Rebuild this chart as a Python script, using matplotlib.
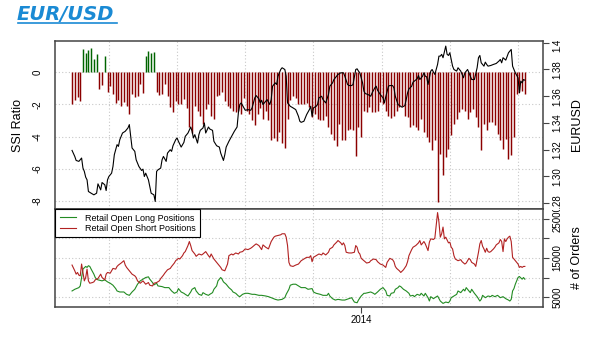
import matplotlib.pyplot as plt
import numpy as np
from matplotlib.lines import Line2D
from matplotlib.transforms import Bbox, TransformedBbox

plt.rcParams['font.family'] = ['Liberation Sans', 'DejaVu Sans']

# trading-day index; 2014 starts at day 212
start_2014 = 212
grid_days = np.arange(27, 340, 50)

# SSI bars, one every second day
ssi_day = np.arange(0, 333, 2)
ssi = [-1.96, -1.71, -1.55, -1.80, 1.45, 1.18, 1.38, 1.51, 0.83, 1.14,
       -1.05, -0.80, 1.03, -1.20, -0.85, -1.35, -1.90, -1.70, -2.10, -1.85,
       -2.10, -2.60, -1.35, -1.55, -1.45, -0.75, -1.30, 1.00, 1.30, 1.18,
       1.24, -1.25, -1.40, -1.35, -0.75, -1.45, -2.15, -2.45, -1.80, -1.95,
       -2.00, -1.65, -2.20, -3.40, -3.80, -2.10, -2.40, -2.70, -3.20, -2.30,
       -1.95, -2.70, -2.90, -1.50, -1.40, -1.20, -1.80, -2.10, -2.20, -2.40,
       -2.50, -2.40, -2.60, -1.60, -2.40, -2.60, -3.00, -3.30, -2.60, -2.20,
       -2.90, -2.40, -3.00, -4.20, -4.10, -4.30, -3.70, -4.40, -4.70, -2.90,
       -1.70, -1.50, -1.60, -1.96, -1.96, -1.96, -1.90, -2.17, -2.79, -2.58,
       -2.89, -3.00, -3.00, -2.69, -3.41, -3.82, -4.24, -4.61, -3.20, -4.24,
       -4.24, -3.62, -3.51, -3.62, -5.23, -3.41, -4.03, -2.38, -2.48, -2.17,
       -2.48, -2.48, -2.38, -1.86, -1.96, -2.38, -2.69, -2.83, -2.69, -2.38,
       -2.17, -2.07, -2.69, -2.79, -3.41, -3.31, -3.41, -3.62, -2.89, -3.72,
       -4.03, -4.34, -4.86, -4.24, -8.06, -5.06, -6.40, -5.27, -4.75, -3.93,
       -3.20, -2.89, -2.48, -2.27, -2.38, -2.89, -2.48, -2.27, -2.79, -3.41,
       -4.81, -3.20, -3.62, -3.10, -3.10, -3.31, -3.82, -4.24, -4.75, -4.13,
       -5.37, -5.17, -4.03, -1.34, -1.24, -1.14, -1.34]

eur_day = [0, 2, 3, 5, 7, 8, 9, 10, 11, 12,
           14, 16, 18, 19, 21, 22, 24, 25, 26, 27,
           29, 30, 31, 33, 34, 35, 37, 39, 41, 42,
           43, 44, 46, 47, 49, 51, 52, 53, 54, 56,
           57, 58, 60, 61, 62, 63, 65, 66, 67, 69,
           70, 72, 73, 74, 76, 77, 78, 80, 82, 83,
           85, 87, 88, 89, 90, 92, 93, 94, 96, 97,
           98, 100, 101, 103, 104, 106, 108, 109, 111, 112,
           113, 115, 117, 119, 121, 122, 123, 124, 126, 127,
           129, 131, 132, 134, 135, 137, 138, 139, 140, 142,
           143, 145, 146, 147, 149, 150, 151, 153, 154, 156,
           157, 158, 160, 162, 164, 166, 167,
           168, 170, 172, 174, 175, 176, 177, 179, 180, 181,
           183, 184, 186, 188, 189, 191, 192, 194, 195, 197,
           199, 200, 202, 203, 205, 206, 208, 209, 210, 211,
           213, 214, 215, 217, 219, 220, 222, 223, 224, 226,
           228, 229, 230, 232, 233, 235, 236, 237, 239, 241,
           242, 244, 245, 246, 247, 249, 250, 251, 253, 254,
           255, 257, 258, 259, 260, 261, 263, 264, 265, 266,
           268, 269, 270, 271, 272, 274, 275, 276, 277, 279,
           280, 282, 283, 285, 287, 288, 290, 291, 293, 295,
           297, 298, 299, 300, 302, 303, 304, 305, 307, 309,
           311, 313, 314, 315, 316, 318, 320, 321, 322, 323,
           324, 325, 327, 328, 329, 330, 331, 332]
eurusd = [1.3195, 1.3150, 1.3120, 1.3113, 1.3138, 1.3063, 1.3038, 1.2995, 1.2975, 1.2888,
          1.2875, 1.2863, 1.2875, 1.2945, 1.2900, 1.2955, 1.2938, 1.2895, 1.2975, 1.3000,
          1.3025, 1.3075, 1.3163, 1.3238, 1.3225, 1.3275, 1.3325, 1.3338, 1.3363, 1.3388,
          1.3300, 1.3213, 1.3188, 1.3125, 1.3075, 1.3045, 1.3055, 1.3000, 1.3025, 1.2975,
          1.2925, 1.2875, 1.2863, 1.2813, 1.3038, 1.3050, 1.3063, 1.3125, 1.3150, 1.3113,
          1.3175, 1.3200, 1.3188, 1.3230, 1.3275, 1.3288, 1.3263, 1.3220, 1.3255, 1.3300,
          1.3325, 1.3370, 1.3338, 1.3288, 1.3313, 1.3250, 1.3313, 1.3345, 1.3363, 1.3400,
          1.3325, 1.3370, 1.3355, 1.3345, 1.3263, 1.3230, 1.3220, 1.3175, 1.3120, 1.3163,
          1.3220, 1.3263, 1.3300, 1.3338, 1.3370, 1.3480, 1.3538, 1.3550, 1.3513, 1.3495,
          1.3500, 1.3495, 1.3513, 1.3588, 1.3605, 1.3580, 1.3550, 1.3570, 1.3538, 1.3563,
          1.3575, 1.3538, 1.3575, 1.3675, 1.3700, 1.3688, 1.3750, 1.3800, 1.3813, 1.3800,
          1.3750, 1.3550, 1.3525, 1.3513, 1.3500, 1.3450, 1.3413,
          1.3405, 1.3413, 1.3463, 1.3500, 1.3525, 1.3450, 1.3513, 1.3525, 1.3538, 1.3588,
          1.3600, 1.3575, 1.3550, 1.3613, 1.3675, 1.3700, 1.3725, 1.3750, 1.3763, 1.3775,
          1.3775, 1.3750, 1.3688, 1.3680, 1.3680, 1.3688, 1.3800, 1.3805, 1.3788, 1.3775,
          1.3700, 1.3638, 1.3620, 1.3613, 1.3600, 1.3625, 1.3663, 1.3675, 1.3645, 1.3613,
          1.3588, 1.3550, 1.3595, 1.3675, 1.3680, 1.3680, 1.3663, 1.3600, 1.3538, 1.3525,
          1.3518, 1.3530, 1.3575, 1.3625, 1.3655, 1.3675, 1.3705, 1.3713, 1.3730, 1.3755,
          1.3725, 1.3750, 1.3775, 1.3750, 1.3745, 1.3688, 1.3788, 1.3800, 1.3780, 1.3763,
          1.3838, 1.3900, 1.3900, 1.3913, 1.3888, 1.3975, 1.3913, 1.3905, 1.3925, 1.3825,
          1.3800, 1.3788, 1.3813, 1.3788, 1.3738, 1.3775, 1.3800, 1.3775, 1.3725, 1.3725,
          1.3813, 1.3888, 1.3905, 1.3850, 1.3825, 1.3855, 1.3838, 1.3825, 1.3830, 1.3838,
          1.3845, 1.3863, 1.3875, 1.3850, 1.3888, 1.3870, 1.3925, 1.3938, 1.3950, 1.3825,
          1.3800, 1.3775, 1.3738, 1.3625, 1.3713, 1.3700, 1.3725, 1.3720]

# open positions, thousands of orders
long_day = [0, 2, 5, 6, 7, 8, 10, 11, 12, 13,
            14, 16, 17, 18, 19, 22, 24, 26, 28, 30,
            32, 33, 35, 38, 40, 42, 44, 46, 48, 50,
            52, 54, 56, 57, 59, 60, 62, 63, 66, 68,
            71, 73, 75, 77, 78, 80, 82, 83, 85, 87,
            88, 90, 91, 93, 95, 96, 98, 100, 101, 103,
            104, 106, 107, 109, 110, 111, 113, 115, 117, 118,
            120, 122, 123, 125, 127, 129, 132, 134, 137, 139,
            142, 144, 146, 149, 151, 154, 156, 157, 159, 160,
            162,
            164, 166, 168, 171, 173, 176, 177, 179, 182, 184,
            187, 188, 189, 191, 193, 195, 198, 200, 203, 205,
            207, 209, 210, 212, 214, 215, 217, 219, 221, 222,
            224, 226, 228, 230, 231, 233, 234, 236, 237, 239,
            240, 241, 243, 245, 247, 248, 250, 251, 253, 255,
            256, 258, 259, 261, 262, 263, 265, 266, 268, 270,
            272, 274, 276, 277, 278, 280, 282, 283, 285, 287,
            288, 289, 291, 292, 293, 295, 297, 299, 300, 301,
            303, 305, 307, 308, 310, 312, 314, 316, 318, 320,
            321, 322, 323, 324, 325, 326, 327, 328, 330, 331,
            332]
long_k = [6.55, 6.98, 7.41, 7.84, 10.0, 12.15, 12.84, 12.59, 13.02, 12.84,
          12.15, 10.86, 10.0, 9.57, 9.40, 9.14, 9.40, 8.88, 8.53, 8.02,
          7.16, 6.55, 6.29, 6.29, 5.69, 5.43, 6.29, 6.98, 8.28, 9.14,
          9.57, 10.0, 10.17, 9.57, 8.71, 8.10, 8.53, 7.84, 7.67, 7.41,
          7.41, 6.55, 5.95, 6.29, 7.16, 6.29, 5.95, 5.69, 5.26, 6.29,
          6.98, 7.41, 6.55, 5.69, 5.43, 6.12, 5.69, 5.43, 5.69, 6.12,
          6.98, 7.84, 9.14, 10.0, 9.57, 8.88, 8.28, 7.41, 6.81, 6.29,
          5.95, 5.26, 5.09, 5.69, 5.95, 5.95, 5.69, 5.69, 5.43, 5.43,
          5.26, 5.09, 4.83, 4.40, 4.22, 4.40, 4.83, 5.69, 6.98, 8.02,
          8.28,
          8.28, 7.84, 7.41, 7.41, 6.98, 7.16, 6.29, 5.95, 5.69, 5.43,
          5.43, 5.95, 5.26, 4.57, 4.22, 4.40, 4.22, 4.22, 4.57, 4.83,
          3.71, 3.53, 4.22, 5.26, 5.95, 5.95, 6.12, 6.29, 5.95, 5.69,
          6.29, 6.98, 7.41, 6.55, 5.43, 5.26, 5.95, 6.12, 6.98, 7.41,
          7.84, 7.67, 6.98, 6.55, 5.95, 5.26, 5.43, 5.09, 5.69, 5.43,
          5.95, 5.26, 5.95, 4.83, 3.97, 5.09, 4.57, 4.83, 5.26, 3.97,
          3.36, 3.71, 3.53, 3.97, 4.83, 5.26, 5.69, 6.55, 6.12, 6.98,
          6.55, 7.41, 6.55, 6.12, 6.98, 5.95, 5.09, 3.97, 4.40, 5.43,
          4.83, 5.26, 5.09, 5.43, 5.09, 5.43, 4.83, 5.09, 4.57, 4.22,
          3.97, 4.40, 6.55, 7.16, 8.28, 9.14, 10.0, 10.26, 9.57, 10.0,
          9.57]

short_day = [0, 2, 3, 4, 5, 6, 7, 8, 9, 10,
             11, 12, 13, 15, 16, 17, 19, 21, 22, 24,
             25, 26, 28, 30, 32, 33, 34, 36, 38, 39,
             40, 41, 43, 44, 46, 47, 48, 50, 52, 54,
             56, 57, 59, 60, 62, 64, 65, 67, 68, 70,
             72, 73, 75, 76, 78, 79, 81, 82, 83, 85,
             86, 87, 88, 90, 91, 93, 95, 96, 98, 100,
             101, 102, 104, 105, 107, 109, 110, 112, 113, 114,
             115, 117, 118, 120, 122, 123, 125, 127, 129, 131,
             132, 134, 135, 137, 139, 140, 142, 144, 146, 148,
             149, 151, 153, 154, 156, 157, 158, 159, 160, 162,
             164, 166, 168, 170, 172, 174, 175, 176, 177, 179,
             181, 183, 184, 186, 188, 189, 191, 192, 194, 195,
             197, 198, 199, 200, 201, 203, 205, 207, 208, 209,
             210, 211, 212, 214, 216, 218, 219, 221, 223, 224,
             226, 228, 230, 231, 233, 235, 236, 237, 238, 240,
             241, 243, 245, 246, 247, 249, 250, 252, 254, 255,
             256, 258, 259, 261, 262, 263, 265, 266, 267, 268,
             269, 270, 271, 272, 273, 274, 276, 277, 278, 279,
             280, 281, 283, 285, 286, 288, 289, 291, 292, 293,
             295, 296, 298, 299, 300, 301, 302, 303, 304, 305,
             306, 307, 309, 310, 311, 313, 314, 315, 316, 317,
             318, 319, 320, 321, 322, 323, 324, 325, 327, 328,
             329, 330, 331, 332]
short_k = [13.19, 11.72, 10.86, 11.29, 10.60, 10.43, 13.45, 11.29, 9.14, 10.0,
           12.15, 9.14, 8.53, 8.71, 8.88, 9.40, 9.74, 10.86, 10.0, 9.40,
           10.86, 11.29, 11.12, 12.33, 12.15, 12.84, 13.19, 13.71, 14.31, 13.19,
           12.59, 12.15, 11.29, 10.86, 10.43, 10.0, 9.14, 8.53, 9.14, 8.28,
           8.71, 8.02, 7.84, 8.53, 8.71, 9.14, 9.74, 10.60, 11.12, 11.98,
           12.33, 12.84, 13.71, 14.31, 14.91, 14.74, 15.60, 16.29, 16.64, 18.19,
           19.22, 18.19, 16.90, 16.03, 15.43, 16.03, 15.78, 16.03, 16.64, 15.60,
           15.17, 16.03, 14.74, 14.31, 13.45, 12.59, 11.98, 11.72, 12.59, 13.45,
           15.60, 16.03, 15.78, 16.29, 16.03, 16.47, 16.64, 17.33, 17.15, 17.50,
           17.76, 18.36, 18.62, 18.19, 17.15, 18.36, 17.76, 17.33, 19.22, 20.34,
           20.60, 20.77, 20.95, 21.21, 21.21, 20.34, 18.19, 13.88, 13.02, 12.84,
           13.19, 13.45, 14.31, 14.74, 15.17, 15.17, 15.60, 14.05, 15.17, 15.60,
           16.03, 15.78, 16.29, 15.78, 16.47, 17.33, 17.76, 18.36, 19.05, 19.48,
           18.88, 18.36, 18.88, 18.19, 16.47, 16.29, 16.29, 16.47, 18.19, 17.76,
           16.47, 16.03, 14.91, 14.31, 13.71, 13.88, 14.31, 14.74, 14.57, 14.05,
           13.45, 13.19, 12.59, 13.88, 14.91, 14.57, 14.05, 12.84, 12.33, 11.72,
           11.29, 11.98, 13.02, 14.05, 15.60, 17.15, 17.76, 18.19, 18.88, 19.48,
           18.36, 19.22, 18.62, 16.90, 19.05, 19.91, 19.74, 20.09, 23.36, 26.64,
           24.22, 20.34, 21.21, 22.93, 19.91, 20.34, 18.88, 19.05, 17.76, 17.33,
           15.60, 14.74, 14.31, 14.57, 14.05, 13.45, 13.71, 14.91, 14.57, 13.88,
           13.45, 12.84, 16.47, 18.62, 19.48, 18.02, 17.33, 16.47, 17.50, 16.64,
           16.47, 16.64, 17.33, 17.76, 18.36, 18.88, 19.74, 19.22, 16.64, 19.91,
           19.22, 19.91, 20.34, 20.60, 19.22, 15.17, 14.74, 14.31, 13.45, 12.59,
           12.84, 12.59, 12.84, 12.84]

ssi_ticks = [0, -2, -4, -6, -8]
eur_ticks = [1.28, 1.30, 1.32, 1.34, 1.36, 1.38, 1.40]
order_ticks = [5000, 10000, 15000, 20000, 25000]
order_labels = ['5000', '', '15000', '', '25000']

frame = '#444444'
grid_kw = dict(color='#c8c8c8', linestyle=(0, (1, 2)), linewidth=0.8)

fig = plt.figure(figsize=(6.03, 3.39), dpi=100)


def clip_labels(labels, y0, y1):
    # keep tick labels inside their own panel band, like the R layout regions
    box = TransformedBbox(Bbox.from_extents(0, y0, 1, y1), fig.transFigure)
    for lbl in labels:
        lbl.set_clip_box(box)
        lbl.set_clip_on(True)


# upper panel: SSI bars + EURUSD
ax = fig.add_axes([55 / 603, 1 - 209 / 339, 488 / 603, 168 / 339])
ssi = np.array(ssi)
cols = np.where(ssi > 0, '#006400', '#8b0000')
ax.vlines(ssi_day, 0, ssi, colors=cols, linewidth=1.05, zorder=2)
ax.set_xlim(-12.5, 345.3)
ax.set_ylim(-8.5, 1.94)
ax.set_yticks(ssi_ticks)
ax.set_yticklabels([str(t) for t in ssi_ticks], rotation=90, va='center')
ax.tick_params(axis='y', length=0, pad=9, labelsize=7)
ax.set_xticks(grid_days)
ax.tick_params(axis='x', length=0, labelbottom=False)
ax.grid(True, **grid_kw)
ax.set_axisbelow(True)
ax.set_ylabel('SSI Ratio', fontsize=9, labelpad=6)
for s in ax.spines.values():
    s.set_color(frame)
    s.set_linewidth(1.1)

ax2 = ax.twinx()
ax2.plot(eur_day, eurusd, color='black', linewidth=0.8)
ax2.set_ylim(1.2757, 1.4013)
ax2.set_yticks(eur_ticks)
ax2.set_yticklabels(['%.2f' % t for t in eur_ticks], rotation=90, va='center')
ax2.tick_params(axis='y', length=4, pad=3, labelsize=7, color=frame)
ax2.set_ylabel('EURUSD', fontsize=9, labelpad=6)
for s in ax2.spines.values():
    s.set_visible(False)
clip_labels(ax2.get_yticklabels(), 1 - 209 / 339, 1 - 41 / 339)

# lower panel: open positions
ax3 = fig.add_axes([55 / 603, 1 - 307 / 339, 488 / 603, 98 / 339])
ax3.plot(long_day, np.array(long_k) * 1000, color='#228b22', linewidth=0.8,
         label='Retail Open Long Positions')
ax3.plot(short_day, np.array(short_k) * 1000, color='#b22222', linewidth=0.8,
         label='Retail Open Short Positions')
ax3.set_xlim(-12.5, 345.3)
ax3.set_ylim(2440, 27560)
ax3.yaxis.tick_right()
ax3.yaxis.set_label_position('right')
ax3.set_yticks(order_ticks)
ax3.set_yticklabels(order_labels, rotation=90, va='center')
ax3.tick_params(axis='y', length=4, pad=3, labelsize=7, color=frame)
ax3.set_xticks([start_2014])
ax3.set_xticklabels(['2014'])
ax3.set_xticks(grid_days, minor=True)
ax3.tick_params(axis='x', which='major', length=4, pad=2, labelsize=7, color=frame)
ax3.tick_params(axis='x', which='minor', length=0)
ax3.grid(True, which='minor', axis='x', **grid_kw)
ax3.grid(True, which='major', axis='y', **grid_kw)
ax3.set_ylabel('# of Orders', fontsize=9, labelpad=6)
for s in ax3.spines.values():
    s.set_color(frame)
    s.set_linewidth(1.1)
clip_labels(ax3.get_yticklabels(), 0, 1 - 210 / 339)
leg = ax3.legend(loc='upper left', fontsize=6.5, frameon=True, fancybox=False,
                 borderaxespad=0, handlelength=1.8, handletextpad=1.0,
                 borderpad=0.5, labelspacing=0.15)
leg.get_frame().set_edgecolor('black')
leg.get_frame().set_linewidth(0.8)
leg.get_frame().set_alpha(1)

# title
fig.text(17 / 603, 1 - 14 / 339, 'EUR/USD', color='#1a8ad4', fontsize=14,
         fontweight='bold', style='italic', family='DejaVu Sans', va='center')
fig.add_artist(Line2D([18 / 603, 117 / 603], [1 - 22.5 / 339] * 2,
                      color='#1a8ad4', linewidth=1.2))

fig.savefig('out.png', dpi=100)
